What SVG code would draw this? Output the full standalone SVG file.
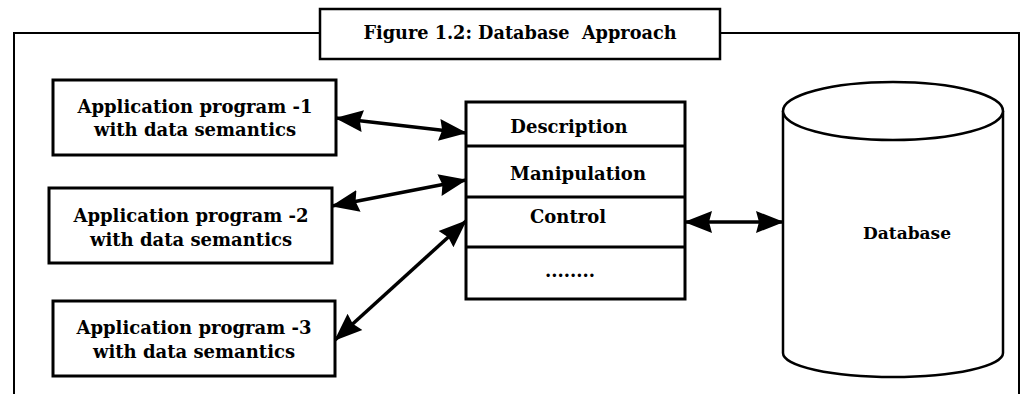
<svg xmlns="http://www.w3.org/2000/svg" width="1031" height="394" viewBox="0 0 1031 394">
<style>
.box{fill:#fff;stroke:#000;stroke-width:3}
.frame{fill:none;stroke:#000;stroke-width:2}
.t{font-family:"DejaVu Serif","Liberation Serif",serif;font-weight:bold;font-size:18px;fill:#000;text-anchor:middle}
.title{font-size:17.7px;white-space:pre}
.conn{fill:none;stroke:#000;stroke-width:3.5}
</style>
<defs>
<marker id="ah" markerUnits="userSpaceOnUse" markerWidth="28" markerHeight="24" viewBox="0 0 28 24" refX="27" refY="12" orient="auto-start-reverse">
<path d="M0,1 L28,12 L0,23 L3,12 Z" fill="#000"/>
</marker>
</defs>
<rect width="1031" height="394" fill="#fff"/>
<path class="frame" d="M14,394 V33 H320 M720,33 H1019 V394"/>
<g id="title">
<rect class="box" x="320" y="9" width="400" height="50" style="stroke-width:2.5"/>
<text class="t title" x="520" y="39">Figure 1.2: Database  Approach</text>
</g>
<g id="app1">
<rect class="box" x="53" y="80" width="283" height="75"/>
<text class="t" x="195" y="113">Application program -1</text>
<text class="t" x="195" y="136">with data semantics</text>
</g>
<g id="app2">
<rect class="box" x="49" y="188" width="283" height="75"/>
<text class="t" x="191" y="222">Application program -2</text>
<text class="t" x="191" y="246">with data semantics</text>
</g>
<g id="app3">
<rect class="box" x="53" y="301" width="282" height="75"/>
<text class="t" x="194" y="334">Application program -3</text>
<text class="t" x="194" y="358">with data semantics</text>
</g>
<g id="dbms">
<rect class="box" x="466" y="102" width="219" height="197"/>
<line x1="466" y1="146" x2="685" y2="146" stroke="#000" stroke-width="3"/>
<line x1="466" y1="197" x2="685" y2="197" stroke="#000" stroke-width="3"/>
<line x1="466" y1="247" x2="685" y2="247" stroke="#000" stroke-width="3"/>
<text class="t" x="569" y="133">Description</text>
<text class="t" x="578" y="180">Manipulation</text>
<text class="t" x="568" y="223">Control</text>
<text class="t" x="570" y="277">........</text>
</g>
<g id="database">
<path d="M783,111 V353 A110,24 0 0 0 1003,353 V111" fill="#fff" stroke="#000" stroke-width="2.5"/>
<ellipse cx="893" cy="111" rx="110" ry="29" fill="#fff" stroke="#000" stroke-width="2.5"/>
<text class="t" x="907" y="239" style="font-size:17px">Database</text>
</g>
<g id="connectors">
<line class="conn" x1="336" y1="118" x2="466" y2="133" marker-start="url(#ah)" marker-end="url(#ah)"/>
<line class="conn" x1="332" y1="206" x2="466" y2="180" marker-start="url(#ah)" marker-end="url(#ah)"/>
<line class="conn" x1="335" y1="340" x2="466" y2="221" marker-start="url(#ah)" marker-end="url(#ah)"/>
<line class="conn" x1="685" y1="222" x2="783" y2="222" marker-start="url(#ah)" marker-end="url(#ah)"/>
</g>
</svg>
